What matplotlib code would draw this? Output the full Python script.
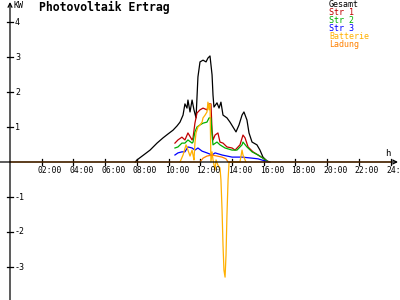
import matplotlib
matplotlib.use("Agg")
import matplotlib.pyplot as plt

# Gesamt (black)
t_gesamt = [7.9, 8.01, 8.51, 8.83, 9.27, 9.65, 9.96, 10.28, 10.53, 10.72, 10.91, 11.03, 11.16,
            11.22, 11.35, 11.48, 11.60, 11.73, 11.85, 11.98, 12.17, 12.36, 12.48, 12.61, 12.74,
            12.80, 12.86, 13.05, 13.18, 13.30, 13.43, 13.68, 13.87, 14.06, 14.25, 14.44, 14.63,
            14.75, 14.94, 15.07, 15.26, 15.57, 15.76, 15.95, 16.20, 16.39]
p_gesamt = [0.0, 0.06, 0.23, 0.34, 0.54, 0.69, 0.80, 0.91, 1.03, 1.14, 1.34, 1.66, 1.54,
            1.77, 1.43, 1.77, 1.49, 1.26, 2.43, 2.86, 2.91, 2.86, 2.97, 3.03, 2.49,
            1.91, 1.57, 1.69, 1.54, 1.71, 1.34, 1.26, 1.14, 1.00, 0.86, 1.06, 1.34,
            1.43, 1.20, 0.83, 0.57, 0.49, 0.34, 0.14, 0.03, 0.0]

# Str 1 (red)
t_str1 = [10.40, 10.59, 10.84, 11.03, 11.22, 11.48, 11.54, 11.66, 11.79, 11.98, 12.17, 12.42,
          12.55, 12.67, 12.74, 12.80, 12.93, 13.11, 13.24, 13.43, 13.68, 14.00, 14.19, 14.50,
          14.69, 14.82, 15.01, 15.32, 15.64, 15.95, 16.20]
p_str1 = [0.54, 0.63, 0.71, 0.63, 0.83, 0.63, 0.69, 1.11, 1.40, 1.49, 1.54, 1.49,
          1.66, 1.66, 0.91, 0.63, 0.77, 0.83, 0.57, 0.54, 0.43, 0.40, 0.34, 0.49,
          0.77, 0.69, 0.43, 0.29, 0.20, 0.11, 0.03]

# Str 2 (green)
t_str2 = [10.40, 10.59, 10.84, 11.03, 11.22, 11.48, 11.54, 11.66, 11.79, 11.98, 12.17, 12.42,
          12.55, 12.67, 12.74, 12.80, 13.05, 13.24, 13.56, 14.00, 14.31, 14.63, 14.69, 14.94,
          15.26, 15.64, 15.95, 16.20]
p_str2 = [0.40, 0.43, 0.54, 0.54, 0.63, 0.54, 0.57, 0.86, 1.00, 1.06, 1.11, 1.14,
          1.26, 1.26, 0.77, 0.49, 0.57, 0.49, 0.40, 0.34, 0.34, 0.49, 0.57, 0.43,
          0.29, 0.20, 0.11, 0.03]

# Str 3 (blue)
t_str3 = [10.40, 10.59, 10.84, 11.03, 11.22, 11.48, 11.66, 11.85, 12.11, 12.42, 12.74, 12.93,
          13.37, 14.00, 14.63, 15.26, 15.64, 16.08, 16.27]
p_str3 = [0.20, 0.26, 0.29, 0.29, 0.43, 0.40, 0.34, 0.40, 0.31, 0.26, 0.20, 0.26,
          0.20, 0.14, 0.14, 0.11, 0.09, 0.03, 0.0]

# Batterie (yellow-orange)
t_batt = [10.72, 10.91, 11.10, 11.16, 11.22, 11.35, 11.48, 11.54, 11.60, 11.66, 11.73, 11.85,
          11.98, 12.11, 12.17, 12.30, 12.42, 12.48, 12.55, 12.61, 12.67, 12.74, 12.80, 12.93,
          12.99, 13.11, 13.24, 13.30, 13.37, 13.43, 13.49, 13.56, 13.62, 13.68, 13.75, 13.81,
          13.87, 14.50, 14.63, 14.69, 14.82, 14.88]
p_batt = [0.0, 0.20, 0.49, 0.43, 0.34, 0.17, 0.34, 0.20, 0.06, 0.54, 0.83, 1.00,
          1.06, 1.14, 1.26, 1.34, 1.43, 1.71, 1.49, 1.66, 0.0, 0.29, 0.06, -0.23,
          0.06, -0.09, -0.17, -0.51, -1.37, -2.37, -3.09, -3.29, -2.66, -1.51, -0.51, -0.03,
          0.0, 0.0, 0.34, 0.20, 0.06, 0.0]

# Ladung (orange)
t_lad = [0.0, 11.98, 12.17, 12.42, 12.74, 13.05, 13.37, 13.62, 13.75, 24.0]
p_lad = [0.0, 0.0, 0.11, 0.17, 0.20, 0.17, 0.14, 0.09, 0.0, 0.0]

x_ticks = [2, 4, 6, 8, 10, 12, 14, 16, 18, 20, 22, 24]
y_ticks = [-3, -2, -1, 1, 2, 3, 4]

legend_names = ["Gesamt", "Str 1", "Str 2", "Str 3", "Batterie", "Ladung"]
legend_colors = ["black", "#C00000", "#00B000", "#0000FF", "#FFB000", "#FF8000"]

W, H = 400, 300
fig = plt.figure(figsize=(4, 3), dpi=100)
ax = fig.add_axes([0, 0, 1, 1])
ax.set_axis_off()

# pixel mapping: x=10px is 0h, 15.86 px per hour; y=162px is 0 kW, 35 px per kW
xs = 15.86
ys = 35.0
ax.set_xlim(-10 / xs, (W - 10) / xs)
ax.set_ylim((162 - H) / ys, 162 / ys)

mono = "DejaVu Sans Mono"
lw = 0.9

# axes with arrows
ax.annotate("", xy=(0, 160 / ys), xytext=(0, (162 - H) / ys),
            arrowprops=dict(arrowstyle="->", lw=lw, color="black", mutation_scale=7,
                            shrinkA=0, shrinkB=0))
ax.annotate("", xy=(388 / xs, 0), xytext=(-10 / xs, 0),
            arrowprops=dict(arrowstyle="->", lw=lw, color="black", mutation_scale=7,
                            shrinkA=0, shrinkB=0))

for t in x_ticks:
    ax.plot([t, t], [-3 / ys, 3 / ys], color="black", lw=lw)
    ax.text(t - 4 / xs, -8 / ys, "%02d:00" % t, fontsize=5.8, family=mono,
            ha="left", va="center")
for v in y_ticks:
    ax.plot([-3 / xs, 3 / xs], [v, v], color="black", lw=lw)
    ax.text(5 / xs, v, str(v), fontsize=6, family=mono, ha="left", va="center")

ax.text(4 / xs, 157 / ys, "KW", fontsize=6, family=mono, ha="left", va="center")
ax.text(375 / xs, 9 / ys, "h", fontsize=6.5, family=mono, ha="left", va="center")

ax.plot(t_gesamt, p_gesamt, color=legend_colors[0], lw=lw)
ax.plot(t_str1, p_str1, color=legend_colors[1], lw=lw)
ax.plot(t_str2, p_str2, color=legend_colors[2], lw=lw)
ax.plot(t_str3, p_str3, color=legend_colors[3], lw=lw)
ax.plot(t_batt, p_batt, color=legend_colors[4], lw=lw)
ax.plot(t_lad, p_lad, color=legend_colors[5], lw=lw)

fig.text(39 / W, 1 - 7.5 / H, "Photovoltaik Ertrag", fontsize=8.3, family=mono,
         fontweight="bold", ha="left", va="center")

for i, (name, col) in enumerate(zip(legend_names, legend_colors)):
    fig.text(329 / W, 1 - (4.5 + 8 * i) / H, name, fontsize=6, family=mono,
             color=col, ha="left", va="center")

fig.savefig("out.png", dpi=100)
